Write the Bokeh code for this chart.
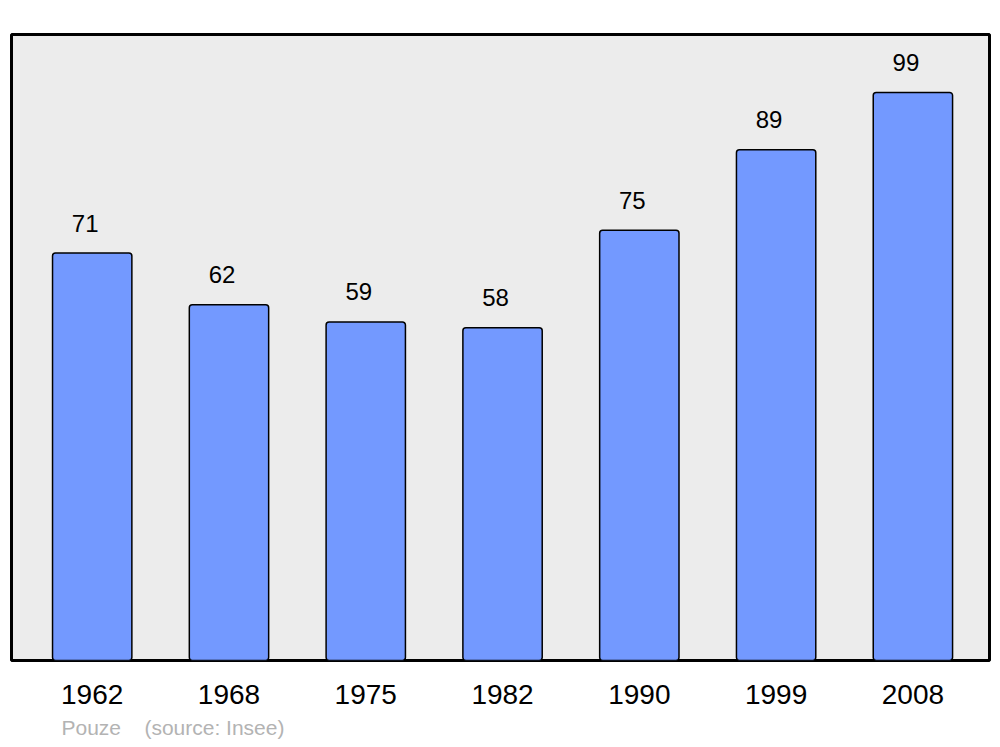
from bokeh.plotting import figure
from bokeh.models import ColumnDataSource, Range1d, FixedTicker, Title
from bokeh.embed import file_html
from bokeh.resources import INLINE
from bokeh.core.properties import value

years = ["1962", "1968", "1975", "1982", "1990", "1999", "2008"]
population = [71, 62, 59, 58, 75, 89, 99]
positions = list(range(len(years)))
commune = "Pouze"
source_note = "(source: Insee)"

src = ColumnDataSource(dict(x=positions, top=population, label=[str(v) for v in population]))

FONT = "Liberation Sans"

p = figure(frame_width=978, frame_height=626, output_backend="svg", toolbar_location=None,
           x_range=Range1d(-0.59, 6.56), y_range=Range1d(0, 109.1),
           min_border_left=11, min_border_right=3, min_border_top=34, min_border_bottom=86)
p.background_fill_color = "#ececec"
p.border_fill_color = "white"
p.outline_line_color = "black"
p.outline_line_width = 3
p.grid.visible = False
p.yaxis.visible = False

p.vbar(x="x", top="top", width=0.58, bottom=0, source=src, fill_color="#7399ff",
       line_color="black", line_width=1.5, border_radius=3)

p.text(x="x", y="top", text="label", source=src, text_align="center", text_baseline="alphabetic",
       x_offset=-7, y_offset=-30, text_font=value(FONT), text_font_size="24px", text_color="black")

ax = p.xaxis[0]
ax.ticker = FixedTicker(ticks=positions)
ax.major_label_overrides = {i: y for i, y in enumerate(years)}
ax.axis_line_color = None
ax.major_tick_line_color = None
ax.minor_tick_line_color = None
ax.major_tick_out = 0
ax.major_tick_in = 0
ax.major_label_standoff = 24
ax.major_label_text_font = FONT
ax.major_label_text_font_size = "28px"
ax.major_label_text_color = "black"

footer = Title(text=commune + "\u00a0\u00a0\u00a0\u00a0" + source_note, align="left", offset=50,
               text_font=FONT, text_font_size="21px", text_font_style="normal",
               text_color="#b3b3b3", standoff=14)
p.add_layout(footer, "below")

open("out.html", "w").write(file_html(p, INLINE))
